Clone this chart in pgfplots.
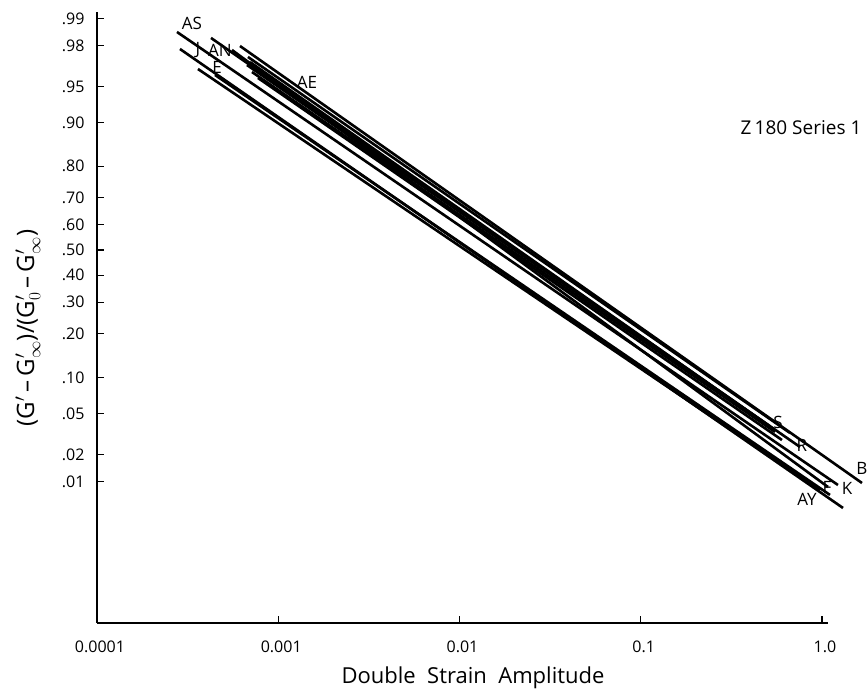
\documentclass[border=0pt]{standalone}
\usepackage{fontspec}
\setmainfont{Open Sans}
\usepackage{pgfplots}
\pgfplotsset{compat=1.18}
\begin{document}
\begin{tikzpicture}[x=1pt,y=1pt]
\useasboundingbox (0,0) rectangle (867,692);
\begin{axis}[
  at={(97pt,69pt)}, anchor=south west,
  scale only axis, width=731pt, height=611pt,
  xmode=log, xmin=1e-4, xmax=1.079,
  ymin=-3.749, ymax=2.392,
  axis x line=bottom, axis y line=left,
  axis line style={-, line width=1.4pt},
  clip=false,
  xminorticks=false,
  xtick={0.0001,0.001,0.01,0.1,1},
  xticklabels={0.0001,0.001,0.01,0.1,1.0},
  ytick={-2.3263,-2.0537,-1.6449,-1.2816,-0.8416,-0.5244,-0.2533,0,0.2533,0.5244,0.8416,1.2816,1.6449,2.0537,2.3263},
  yticklabels={.01,.02,.05,.10,.20,.30,.40,.50,.60,.70,.80,.90,.95,.98,.99},
  tick align=inside, major tick length=7pt,
  tick style={line width=1.2pt, black},
  xticklabel style={font=\fontsize{16}{16}\selectfont, yshift=-14pt, xshift=3pt},
  yticklabel style={font=\fontsize{16}{16}\selectfont, xshift=-9pt},
]
% lower group
\addplot[black, line width=2.6pt] coordinates {(2.763e-4,2.191) (1.225,-2.362)};
\addplot[black, line width=2.6pt] coordinates {(4.256e-4,2.131) (0.7562,-1.980)};
\addplot[black, line width=2.6pt] coordinates {(5.556e-4,2.010) (1.079,-2.382)};
\addplot[black, line width=2.6pt] coordinates {(2.870e-4,2.020) (1.306,-2.593)};
\addplot[black, line width=2.6pt] coordinates {(3.607e-4,1.819) (0.975,-2.412)};
\addplot[black, line width=2.6pt] coordinates {(4.477e-4,1.759) (1.107,-2.462)};
\addplot[black, line width=2.6pt] coordinates {(6.152e-4,2.050) (1.662,-2.342)};
% upper bundle
\addplot[black, line width=2.6pt] coordinates {(6.807e-4,1.940) (0.666,-1.839)};
\addplot[black, line width=2.6pt] coordinates {(6.721e-4,1.859) (0.5038,-1.759)};
\addplot[black, line width=2.6pt] coordinates {(7.163e-4,1.789) (0.5505,-1.829)};
\addplot[black, line width=2.6pt] coordinates {(6.983e-4,1.889) (0.5299,-1.789)};
\addplot[black, line width=2.6pt] coordinates {(7.73e-4,1.729) (0.6014,-1.910)};
% line labels
\begin{scope}[every node/.style={font=\fontsize{17}{17}\selectfont, inner sep=0pt}]
\node at (axis cs:3.342e-4,2.281) {AS};
\node at (axis cs:3.607e-4,2.010) {J};
\node at (axis cs:4.772e-4,2.010) {AN};
\node at (axis cs:4.592e-4,1.839) {E};
\node at (axis cs:1.441e-3,1.688) {AE};
\node at (axis cs:0.5715,-1.729) {S};
\node at (axis cs:0.7757,-1.960) {R};
\node at (axis cs:1.066,-2.382) {F};
\node at (axis cs:1.374,-2.392) {K};
\node at (axis cs:1.662,-2.191) {B};
\node at (axis cs:0.826,-2.503) {AY};
\end{scope}
\end{axis}
\node[font=\fontsize{19}{19}\selectfont] at (801,564) {Z\,180 Series 1};
\node[font=\fontsize{22}{22}\selectfont] at (473,14) {Double\ \ Strain\ \ Amplitude};
\node[rotate=90, font=\fontsize{24}{24}\selectfont] at (28,364) {(G$'$\,–\,G$'_{\infty}$)/(G$'_{0}$\,–\,G$'_{\infty}$)};
\end{tikzpicture}
\end{document}
